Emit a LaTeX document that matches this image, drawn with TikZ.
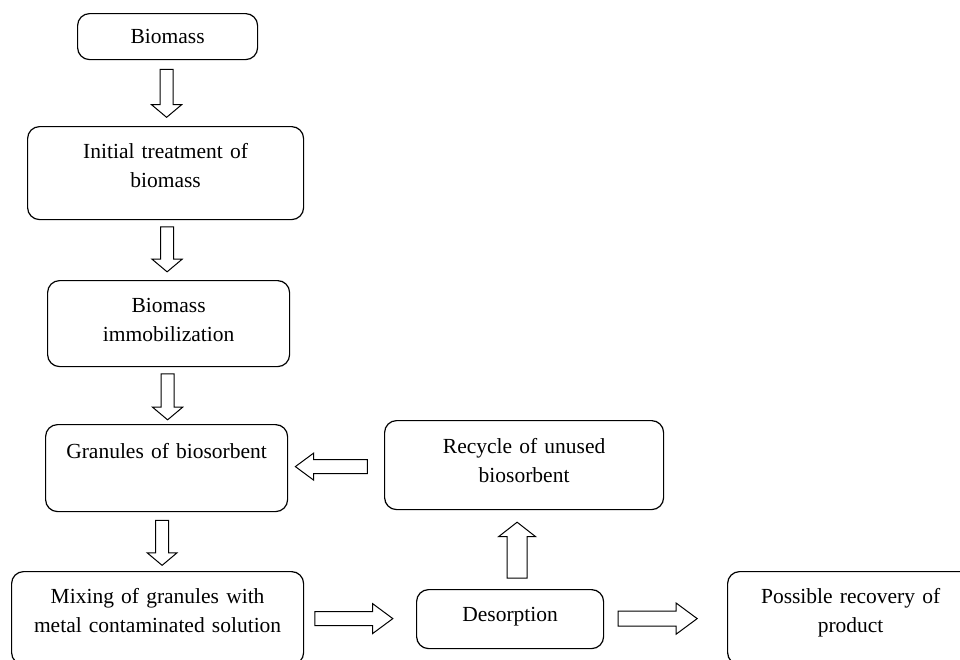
\documentclass[tikz,border=0pt]{standalone}
\usepackage{fontspec}
\setmainfont{Liberation Serif}
\usetikzlibrary{shapes.arrows,calc}

\tikzset{
  stage/.style={draw, rounded corners=12pt, line width=1.2pt, anchor=north west,
    inner sep=0pt, align=center, font=\fontsize{21.5}{29}\selectfont},
  flow/.style={draw, single arrow, line width=1pt, inner xsep=0pt, inner ysep=6pt,
    single arrow head extend=8.5pt, single arrow tip angle=100},
  sideflow/.style={flow, inner ysep=6.5pt, single arrow head extend=8pt, single arrow tip angle=73}
}

\begin{document}
\begin{tikzpicture}[x=1pt, y=-1pt]
	\useasboundingbox (0,0) rectangle (960,659);
	
	% main column
	\node[stage, text width=180pt, text height=30pt, text depth=16pt] (biomass) at (77,13) {Biomass};
	\node[stage, text width=276pt, text height=32pt, text depth=61pt] (initial) at (27,126) {Initial treatment of\\biomass};
	\node[stage, text width=242pt, text height=32pt, text depth=54pt] (immob) at (47,280) {Biomass\\immobilization};
	\node[stage, text width=242pt, text height=34pt, text depth=53pt] (granules) at (45,424) {Granules of biosorbent};
	\node[stage, text width=292pt, text height=32pt, text depth=61pt] (mixing) at (11,571) {Mixing of granules with\\metal contaminated solution};
	
	% right part
	\node[stage, text width=279pt, text height=33pt, text depth=56pt] (recycle) at (384,420) {Recycle of unused\\biosorbent};
	\node[stage, text width=187pt, text height=32pt, text depth=27pt] (desorp) at (416,589) {Desorption};
	\node[stage, text width=246pt, text height=32pt, text depth=61pt] (recovery) at (727,571) {Possible recovery of\\product};
	
	% block arrows
	\node[flow, rotate=-90, minimum height=48pt] (down1) at ($(biomass.south)!0.5!(initial.north)+(0,-2.5)$) {};
	\node[flow, rotate=-90, minimum height=45pt] (down2) at ($(initial.south)!0.5!(immob.north)+(0,-3.5)$) {};
	\node[flow, rotate=-90, minimum height=46pt] (down3) at ($(immob.south)!0.5!(granules.north)+(0,-1.5)$) {};
	\node[flow, rotate=-90, minimum height=45pt] (down4) at ($(granules.south)!0.5!(mixing.north)+(0,-1.5)$) {};
	
	\node[sideflow, minimum height=78pt] (toDesorp) at ($(mixing.east)!0.5!(desorp.west)+(-11,0)$) {};
	\node[sideflow, minimum height=79pt, inner ysep=7pt] (toRecovery) at ($(desorp.east)!0.5!(recovery.west)+(-13,0)$) {};
	\node[sideflow, rotate=180, minimum height=72pt, single arrow head extend=6.5pt] (toGranules) at ($(granules.east)!0.5!(recycle.west)$) {};
	\node[flow, rotate=90, minimum height=56pt, inner ysep=9.5pt, single arrow tip angle=104] (toRecycle) at ($(desorp.north)!0.5!(recycle.south)+(0,4.5)$) {};
\end{tikzpicture}
\end{document}
